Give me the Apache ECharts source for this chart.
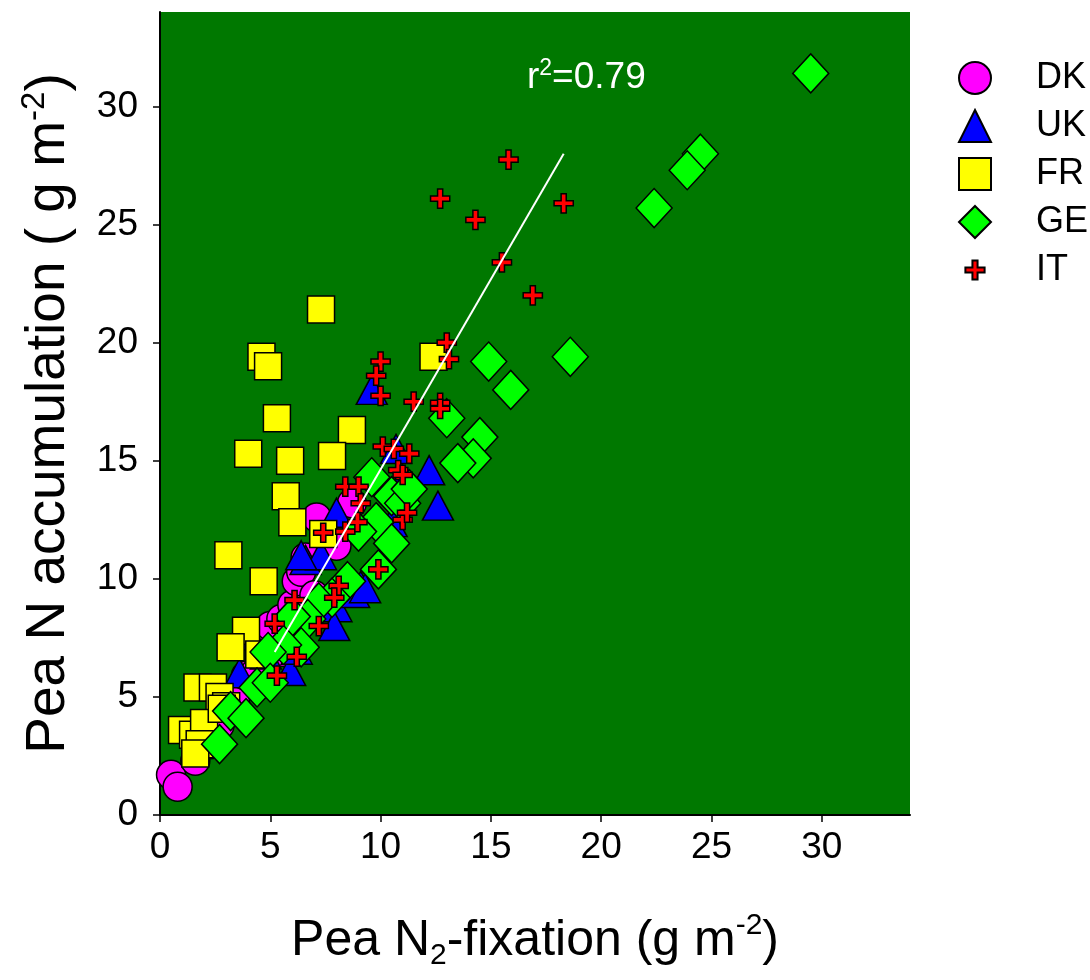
<!DOCTYPE html>
<html>
<head>
<meta charset="utf-8">
<script src="https://cdn.jsdelivr.net/npm/echarts@6/dist/echarts.min.js"></script>
<style>
  html, body { margin: 0; padding: 0; background: #fff; }
  #chart { width: 1090px; height: 980px; }
</style>
</head>
<body>
<div id="chart"></div>
<script>
// values: [N2-fixation, N accumulation] in g m-2
let dkData = [[0.5,1.7],[0.8,1.2],[1.6,2.3],[2.3,3.0],[2.7,3.8],[3.4,4.8],[3.9,5.9],[4.3,6.0],[4.6,7.3],[5.0,8.0],
  [5.5,8.3],[6.0,8.9],[6.2,9.9],[6.4,10.3],[6.6,10.9],[7.1,12.6],[8.0,11.4],[8.7,13.2],[7.0,9.3],[5.6,6.9]]
let ukData = [[9.6,18.0],[12.2,14.6],[12.6,13.1],[10.7,15.5],[11.0,14.2],[6.6,10.8],[7.3,11.0],[8.0,8.8],[7.9,8.0],[9.1,9.7],
  [8.0,12.8],[6.4,11.0],[4.1,7.6],[8.8,9.4],[10.5,12.4],[5.9,6.1],[3.6,6.0],[9.3,9.6],[4.8,6.8],[6.2,7.0]]
let frData = [[7.3,21.4],[4.6,19.4],[4.9,19.0],[5.3,16.8],[8.7,16.3],[4.0,15.3],[5.9,15.0],[7.8,15.2],[5.7,13.5],[6.0,12.4],
  [7.4,11.9],[3.1,11.0],[4.7,9.9],[12.4,19.4],[3.9,7.8],[3.2,7.1],[4.5,6.8],[1.7,5.4],[2.4,5.4],[2.7,5.0],
  [3.0,4.6],[1.0,3.6],[1.5,3.4],[2.0,3.9],[1.8,3.0],[1.6,2.6],[2.8,4.5]]
let geData = [[29.5,31.4],[24.5,28.0],[23.9,27.3],[22.4,25.7],[14.9,19.2],[18.6,19.4],[15.9,18.0],[13.0,16.8],[14.5,16.0],[14.2,15.1],
  [13.5,14.9],[9.6,14.3],[10.5,13.5],[11.0,13.2],[9.8,12.4],[10.5,11.5],[9.9,10.4],[8.5,9.9],[7.8,9.2],[7.2,9.0],
  [6.7,8.3],[6.0,8.4],[6.4,7.1],[5.6,7.2],[4.9,6.9],[4.4,5.4],[5.0,5.6],[3.2,4.4],[3.9,4.1],[2.7,3.0],[9.0,12.0],[11.3,13.8]]
let itData = [[15.8,27.75],[12.7,26.1],[14.3,25.2],[18.3,25.9],[15.5,23.4],[16.9,22.0],[13.0,20.0],[13.1,19.3],[12.7,17.45],[12.7,17.2],
  [11.5,17.5],[10.0,19.2],[9.8,18.6],[10.0,17.75],[10.1,15.6],[10.6,15.5],[11.3,15.3],[10.8,14.6],[11.0,14.4],[11.0,12.5],
  [11.2,12.8],[8.4,13.9],[9.0,13.9],[9.1,13.2],[7.4,11.95],[8.4,12.0],[8.95,12.4],[9.9,10.4],[8.1,9.7],[7.9,9.2],
  [6.1,9.1],[5.2,8.1],[7.2,8.0],[6.2,6.7],[5.3,5.9]]
// regression line end points
let fitX = [5.2, 18.3]
let fitY = [6.9, 28.0]
let rSquared = '0.79'
let countries = ['DK','UK','FR','GE','IT']
let tickVals = [0,5,10,15,20,25,30]

// thin plus sign, padded by two moveTo points so it sits inside a 10x10 box
let crossPath = 'path://M0,0 M10,10 M4.2,2 H5.8 V4.2 H8 V5.8 H5.8 V8 H4.2 V5.8 H2 V4.2 H4.2 Z'

let chart = echarts.init(document.getElementById('chart'))
let fnt = 'Liberation Sans, Arial, sans-serif'
let border = { borderColor: '#000', borderWidth: 1.5 }

function scatter(name, data, symbol, size, color) {
  return {
    name: name,
    type: 'scatter',
    data: data,
    symbol: symbol,
    symbolSize: size,
    itemStyle: Object.assign({ color: color, opacity: 1 }, border),
    emphasis: { disabled: true }
  }
}

function axisCommon(labelMargin) {
  return {
    type: 'value',
    min: 0,
    max: 34,
    interval: 5,
    splitLine: { show: false },
    axisLine: { show: true, onZero: false, lineStyle: { color: '#000', width: 2 } },
    axisTick: { show: true, inside: false, length: 7, customValues: tickVals, lineStyle: { color: '#000', width: 1.5 } },
    axisLabel: { customValues: tickVals, color: '#000', fontSize: 37, fontFamily: fnt, margin: labelMargin },
    nameLocation: 'middle'
  }
}

let xAxis = axisCommon(14)
xAxis.name = '{a|Pea N}{sub|2}{a|-fixation (g m}{sup|-2}{a|)}'
xAxis.nameGap = 96
xAxis.nameTextStyle = {
  rich: {
    a: { fontSize: 50, fontFamily: fnt, color: '#000', lineHeight: 60 },
    sub: { fontSize: 30, fontFamily: fnt, color: '#000', verticalAlign: 'bottom', lineHeight: 60 },
    sup: { fontSize: 30, fontFamily: fnt, color: '#000', verticalAlign: 'top', lineHeight: 60 }
  }
}

let yAxis = axisCommon(22)
yAxis.name = '{a|Pea N accumulation ( g m}{sup|-2}{a|)}'
yAxis.nameGap = 80
yAxis.nameTextStyle = {
  rich: {
    a: { fontSize: 55, fontFamily: fnt, color: '#000', lineHeight: 62 },
    sup: { fontSize: 33, fontFamily: fnt, color: '#000', verticalAlign: 'top', lineHeight: 62 }
  }
}

let option = {
  animation: false,
  backgroundColor: '#fff',
  grid: { left: 160, right: 180, top: 12, bottom: 165, show: true, backgroundColor: '#007800', borderWidth: 0 },
  xAxis: xAxis,
  yAxis: yAxis,
  legend: {
    data: countries,
    orient: 'vertical',
    left: 953,
    top: 55,
    itemWidth: 32,
    itemHeight: 32,
    itemGap: 12,
    textStyle: { fontSize: 36, fontFamily: fnt, color: '#000', padding: [0, 0, 0, 40] }
  },
  graphic: [{
    type: 'text',
    left: 527,
    top: 57,
    style: {
      text: '{a|r}{s|2}{a|=' + rSquared + '}',
      rich: {
        a: { fontSize: 37, fontFamily: fnt, fill: '#fff', lineHeight: 42 },
        s: { fontSize: 23, fontFamily: fnt, fill: '#fff', verticalAlign: 'top', lineHeight: 42 }
      }
    }
  }],
  series: [
    scatter('DK', dkData, 'circle', 29, '#ff00ff'),
    scatter('UK', ukData, 'triangle', [31, 29], '#0000ff'),
    scatter('FR', frData, 'rect', 27, '#ffff00'),
    scatter('GE', geData, 'diamond', [36, 39], '#00ff00'),
    {
      name: 'fit',
      type: 'line',
      data: fitX.map((x, i) => [x, fitY[i]]),
      showSymbol: false,
      symbol: 'none',
      silent: true,
      lineStyle: { color: '#fff', width: 2 }
    },
    scatter('IT', itData, crossPath, 32, '#ff0000')
  ]
}
chart.setOption(option)
</script>
</body>
</html>
